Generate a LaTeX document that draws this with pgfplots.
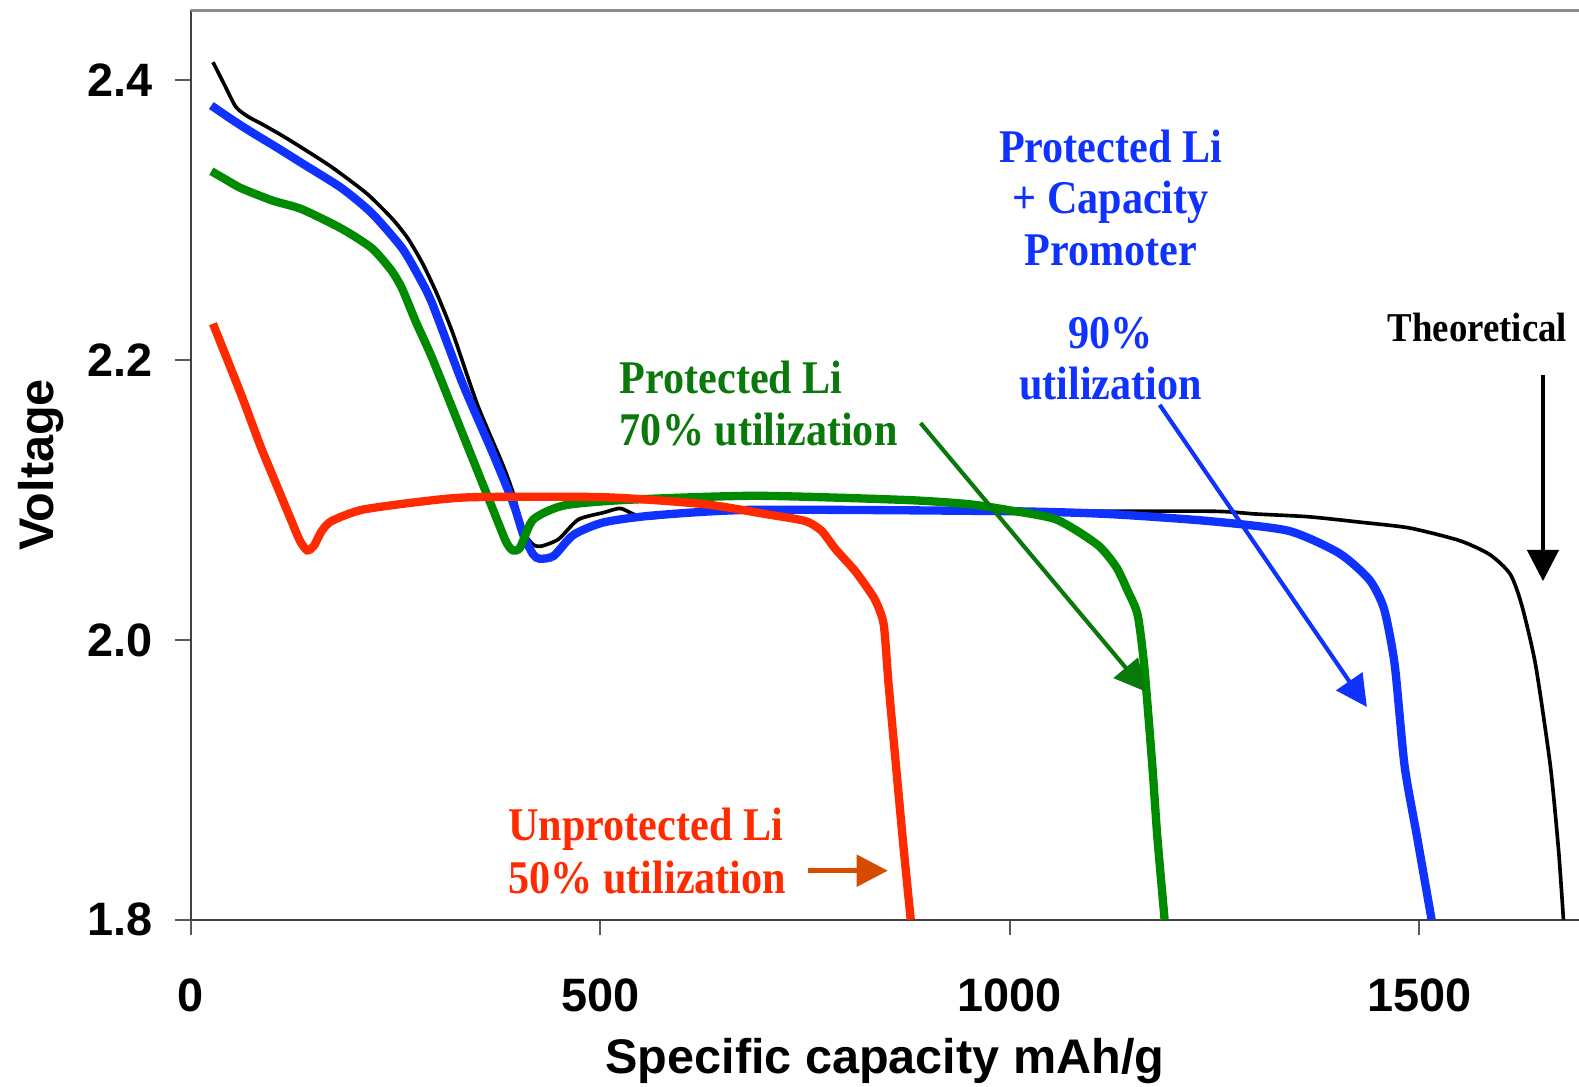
\documentclass[border=0pt]{standalone}
\usepackage{fontspec}
\setmainfont{Liberation Serif}
\setsansfont{Liberation Sans}
\newfontfamily\annot[FakeStretch=0.9]{Liberation Serif}
\usepackage{pgfplots}
\pgfplotsset{compat=1.18}
\usetikzlibrary{arrows.meta}

\definecolor{cred}{RGB}{255,42,0}
\definecolor{cblue}{RGB}{16,50,255}
\definecolor{cgreen}{RGB}{0,138,0}
\definecolor{tgreen}{RGB}{10,120,10}
\definecolor{corange}{RGB}{213,75,0}

\begin{document}
\begin{tikzpicture}
\begin{axis}[
  scale only axis,
  width=400pt, height=262pt,
  xmin=0, xmax=1695, ymin=1.8, ymax=2.45,
  axis lines=left,
  axis line style={-, draw=black!75, line width=0.6pt},
  tick align=outside,
  major tick length=4.5pt,
  tick style={draw=black!65, line width=0.5pt},
  xtick={0,500,1000,1500}, xticklabels={0,500,1000,1500},
  ytick={1.8,2.0,2.2,2.4}, yticklabels={1.8,2.0,2.2,2.4},
  ticklabel style={font=\sffamily\bfseries\fontsize{13.5}{16}\selectfont},
  xticklabel style={yshift=-9pt},
  yticklabel style={xshift=-3pt},
  xlabel={Specific capacity mAh/g},
  ylabel={Voltage},
  label style={font=\sffamily\bfseries\fontsize{14}{16}\selectfont},
  xlabel style={yshift=-0.8pt},
  ylabel style={yshift=0pt},
  clip=false,
]
% top border only
\draw[black!45, line width=0.8pt] (rel axis cs:0,1) -- (rel axis cs:1,1);

% Theoretical
\addplot[black, line width=1.05pt, smooth, tension=0.4] coordinates {
(27,2.413) (40,2.398) (55,2.381) (70,2.374) (86,2.369) (110,2.361) (135,2.352)
(172,2.338) (215,2.319) (246,2.301) (265,2.287) (283,2.269) (300,2.248) (320,2.219)
(350,2.168) (381,2.125) (394,2.104) (406,2.078) (418,2.068) (428,2.067) (449,2.072)
(473,2.086) (504,2.091) (524,2.094) (540,2.090) (557,2.087) (600,2.090) (683,2.093)
(800,2.093) (1000,2.092) (1242,2.092) (1300,2.090) (1365,2.088) (1430,2.084)
(1488,2.080) (1549,2.071) (1586,2.061) (1611,2.047) (1625,2.025) (1642,1.982)
(1660,1.910) (1670,1.850) (1676,1.800)};

% Protected Li + capacity promoter
\addplot[cblue, line width=2.4pt, smooth, tension=0.4] coordinates {
(25,2.382) (50,2.372) (74,2.363) (105,2.352) (135,2.341) (184,2.323) (221,2.305)
(258,2.280) (280,2.258) (295,2.240) (332,2.183) (369,2.133) (394,2.097) (406,2.075)
(418,2.061) (426,2.058) (443,2.060) (467,2.075) (504,2.084) (566,2.089) (689,2.093)
(996,2.092) (1119,2.090) (1242,2.085) (1340,2.078) (1402,2.062) (1439,2.043)
(1457,2.022) (1470,1.982) (1482,1.910) (1497,1.860) (1515,1.800)};

% Protected Li
\addplot[cgreen, line width=2.4pt, smooth, tension=0.4] coordinates {
(25,2.335) (40,2.330) (61,2.323) (100,2.314) (135,2.308) (184,2.294) (221,2.280)
(245,2.264) (258,2.251) (275,2.227) (295,2.201) (332,2.147) (369,2.093) (385,2.070)
(393,2.064) (402,2.066) (418,2.086) (455,2.096) (529,2.100) (689,2.103) (873,2.100)
(950,2.097) (996,2.093) (1057,2.086) (1107,2.068) (1130,2.052) (1144,2.035)
(1156,2.018) (1164,1.982) (1174,1.910) (1180,1.860) (1189,1.800)};

% Unprotected Li
\addplot[cred, line width=2.4pt, smooth, tension=0.4] coordinates {
(27,2.226) (61,2.176) (84,2.140) (98,2.120) (120,2.089) (133,2.071) (142,2.064)
(150,2.067) (160,2.078) (172,2.085) (209,2.093) (283,2.099) (344,2.102) (504,2.102)
(627,2.097) (701,2.090) (750,2.085) (770,2.078) (787,2.065) (810,2.050) (825,2.038)
(836,2.028) (846,2.011) (852,1.968) (861,1.910) (870,1.853) (879,1.800)};

% annotations
\draw[-{Triangle[width=9pt,length=9pt]}, black, line width=1.2pt]
  (axis cs:1651,2.189) -- (axis cs:1651,2.042);
\draw[-{Triangle[width=9pt,length=9pt]}, cblue, line width=1.2pt]
  (axis cs:1183,2.168) -- (axis cs:1436,1.952);
\draw[-{Triangle[width=9pt,length=9pt]}, tgreen, line width=1.2pt]
  (axis cs:891,2.155) -- (axis cs:1166,1.963);
\draw[-{Triangle[width=9pt,length=9pt]}, corange, line width=1.4pt]
  (axis cs:754,1.835) -- (axis cs:851,1.835);

\node[align=center, text=cblue, font=\annot\bfseries\fontsize{13.5}{14.8}\selectfont]
  at (axis cs:1123,2.316) {Protected Li\\+ Capacity\\Promoter};
\node[align=center, text=cblue, font=\annot\bfseries\fontsize{13.5}{14.8}\selectfont]
  at (axis cs:1123,2.201) {90\%\\utilization};
\node[text=black, font=\annot\bfseries\fontsize{11.8}{14}\selectfont]
  at (axis cs:1571,2.223) {Theoretical};
\node[anchor=west, inner sep=0pt, align=left, text=tgreen, font=\annot\bfseries\fontsize{13.5}{14.8}\selectfont]
  at (axis cs:523,2.169) {Protected Li\\70\% utilization};
\node[anchor=west, inner sep=0pt, align=left, text=cred, font=\annot\bfseries\fontsize{13.5}{15.5}\selectfont]
  at (axis cs:387,1.849) {Unprotected Li\\50\% utilization};
\end{axis}
\pgfresetboundingbox
\path ([xshift=-55pt,yshift=-48pt]current axis.south west) rectangle ([yshift=3pt]current axis.north east);
\end{tikzpicture}
\end{document}
